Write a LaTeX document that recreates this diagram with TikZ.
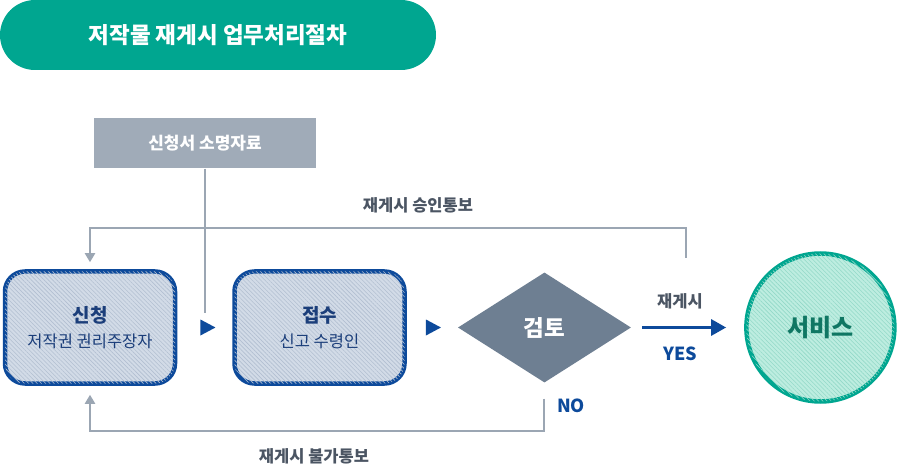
\documentclass[tikz,border=0pt]{standalone}
\usepackage{fontspec}
\setmainfont{Noto Sans CJK KR}
\usepackage{xcolor}
\usetikzlibrary{positioning, arrows.meta, shapes.geometric, patterns.meta}

\definecolor{teal}{HTML}{00A690}
\definecolor{docgray}{HTML}{A0ABB8}
\definecolor{fbgray}{HTML}{9BA6B3}
\definecolor{navy}{HTML}{0D4A9B}
\definecolor{navytext}{HTML}{1B3E7A}
\definecolor{boxfill}{HTML}{D2DBE7}
\definecolor{boxhatch}{HTML}{B2BFD1}
\definecolor{slate}{HTML}{6E7F92}
\definecolor{svcfill}{HTML}{BDEDE0}
\definecolor{svchatch}{HTML}{94D9C8}
\definecolor{svctext}{HTML}{0F7763}
\definecolor{labelgray}{HTML}{4B5563}

\newcommand{\twoline}[2]{{\fontsize{19}{19}\selectfont\bfseries #1}\\[6pt]#2}

\begin{document}
\begin{tikzpicture}[
    x=1pt, y=-1pt,
    every node/.style = {inner sep=0pt, font=\fontsize{16.5}{19}\selectfont},
    titlebar/.style = {fill=teal, text=white, rounded corners=35pt,
        minimum width=436pt, minimum height=70pt, font=\fontsize{22.5}{24}\selectfont\bfseries},
    docbox/.style = {fill=docgray, text=white, minimum width=222pt, minimum height=50pt,
        font=\fontsize{17}{18}\selectfont\bfseries},
    stepbox/.style = {draw=navy, line width=4.5pt, rounded corners=20pt,
        minimum width=170pt, minimum height=112pt, align=center, text=navytext,
        fill=boxfill, postaction={pattern={Lines[angle=-45, distance=3pt, line width=0.6pt]}, pattern color=boxhatch}},
    decide/.style = {diamond, fill=slate, text=white, minimum width=173pt, minimum height=110pt,
        font=\fontsize{22.5}{24}\selectfont\bfseries},
    service/.style = {circle, draw=teal, line width=4.5pt, minimum size=148pt, text=svctext,
        fill=svcfill, postaction={pattern={Lines[angle=-45, distance=3pt, line width=0.6pt]}, pattern color=svchatch},
        font=\fontsize{24}{26}\selectfont\bfseries},
    tipmark/.style = {isosceles triangle, isosceles triangle stretches, fill=navy,
        minimum width=16pt, minimum height=15pt},
    fbline/.style = {draw=fbgray, line width=2pt, -{Triangle[length=9pt, width=10pt]}},
    yesline/.style = {draw=navy, line width=3pt, -{Triangle[length=15pt, width=16pt]}},
    labeltxt/.style = {text=labelgray, font=\fontsize{16.5}{18}\selectfont\bfseries},
    yestxt/.style = {text=navy, font=\fontsize{18}{18}\selectfont\bfseries}
  ]
    \useasboundingbox (0,0) rectangle (900,465);

    \node[titlebar] (title) at (218,35) {저작물 재게시 업무처리절차};
    \node[docbox] (doc) at (205,143.5) {신청서 소명자료};

    \node[stepbox] (req) at (90,327.5) {\twoline{신청}{저작권 권리주장자}};  % 신청
    \node[stepbox, right=55pt of req] (rcv) {\twoline{접수}{신고 수령인}};  % 접수
    \node[decide, right=51pt of rcv] (review) {검토};  % 검토
    \node[service, right=113pt of review] (svc) {서비스};  % 서비스

    \node[tipmark, right=23pt of req] (tip1) {};
    \node[tipmark, right=19pt of rcv] (tip2) {};

    % 재게시 YES
    \coordinate[right=11pt of review.east] (yesfrom);
    \coordinate[left=18pt of svc.west] (yesto);
    \draw[yesline] (yesfrom) -- (yesto);
    \node[labeltxt] (yeslabel) at (680,301) {재게시};
    \node[yestxt] (yes) at (680,354) {YES};

    % 신청서 소명자료
    \draw[fbline, -] (doc.south) -- ++(0,144);

    % 승인통보
    \coordinate (okout) at (686,258);
    \draw[fbline, shorten >=7pt] (okout) -- ++(0,-30) -| (req.north);
    \node[labeltxt] (oklabel) at (418,205) {재게시 승인통보};

    % 불가통보
    \draw[fbline, shorten >=9pt] ([yshift=-16pt]review.south) -- ++(0,32) -| (req.south);
    \node[yestxt] (no) at (571,406) {NO};
    \node[labeltxt] (nolabel) at (314,456) {재게시 불가통보};
\end{tikzpicture}
\end{document}
